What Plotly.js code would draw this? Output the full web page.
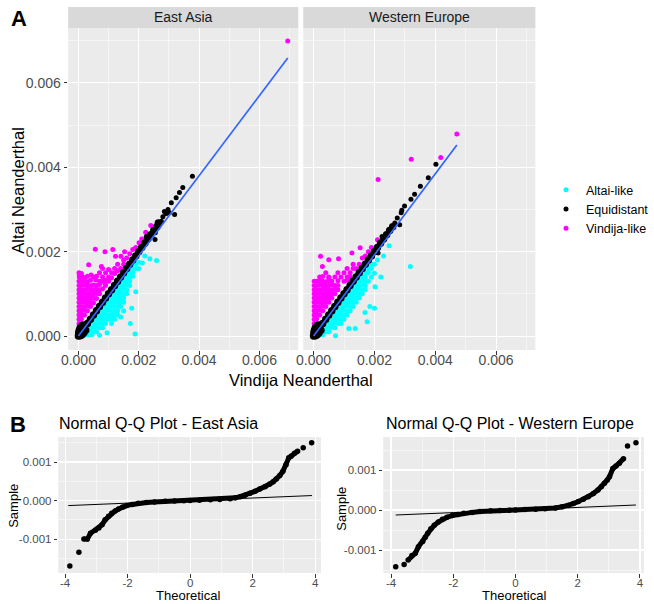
<!DOCTYPE html>
<html>
<head>
<meta charset="utf-8">
<script src="https://cdn.plot.ly/plotly-3.0.1.min.js"></script>
<style>html,body{margin:0;padding:0;background:#fff}#chart{width:654px;height:604px}</style>
</head>
<body>
<div id="chart"></div>
<script>
// ---------- Panel A data: [Vindija, Altai] pairs ----------
const categories = ['Altai-like', 'Equidistant', 'Vindija-like'];
const facets = ['East Asia', 'Western Europe'];

const eaAltai = [
 [0.00025,0.00003],[0.00035,0.00003],[0.00045,0.00004],
 [0.0003,0.0001],[0.0004,0.0001],[0.0005,0.00011],[0.0006,0.0001],
 [0.0004,0.0002],[0.0005,0.0002],[0.0006,0.00021],[0.0007,0.0002],[0.0008,0.0002],
 [0.0005,0.0003],[0.0006,0.0003],[0.0007,0.00031],[0.0008,0.0003],[0.0009,0.0003],[0.0011,0.0003],
 [0.0006,0.0004],[0.0007,0.0004],[0.0008,0.00041],[0.0009,0.0004],[0.001,0.0004],[0.0011,0.0004],[0.0012,0.0004],
 [0.0007,0.0005],[0.0008,0.0005],[0.0009,0.00051],[0.001,0.0005],[0.0011,0.0005],[0.0012,0.0005],[0.0013,0.0005],
 [0.0008,0.0006],[0.0009,0.0006],[0.001,0.00061],[0.0011,0.0006],[0.0012,0.0006],[0.0013,0.0006],
 [0.0009,0.0007],[0.001,0.0007],[0.0011,0.00071],[0.0012,0.0007],[0.0013,0.0007],[0.0014,0.0007],
 [0.001,0.0008],[0.0011,0.0008],[0.0012,0.00081],[0.0013,0.0008],[0.0014,0.0008],[0.0015,0.0008],
 [0.0011,0.0009],[0.0012,0.0009],[0.0013,0.00091],[0.0014,0.0009],[0.0015,0.0009],
 [0.0012,0.001],[0.0013,0.001],[0.0014,0.00101],[0.0015,0.001],[0.0016,0.001],
 [0.0013,0.0011],[0.0014,0.0011],[0.0015,0.00111],[0.0016,0.0011],
 [0.0014,0.0012],[0.0015,0.0012],[0.0016,0.00121],[0.0017,0.0012],
 [0.0015,0.0013],[0.0016,0.0013],[0.0017,0.0013],
 [0.0016,0.0014],[0.0017,0.0014],[0.0018,0.00142],
 [0.0017,0.0015],[0.0018,0.0015],[0.0018,0.0016],[0.0019,0.0016],[0.0019,0.0017],[0.002,0.00175],
 [0.00237,0.00183],[0.00259,0.00179],[0.00212,0.00173],[0.0019,0.00105],[0.00177,0.00066],
 [0.00172,0.0003],[0.00188,0.00005],[0.0022,0.0019],[0.002,0.0016],[0.0015,0.0006],
 [0.00095,0.00008],[0.0007,0.00002],[0.0014,0.00045]
];
const eaEquiBand = [
 [0,0],[0.00006,0.00001],[0.00001,0.00008],[0.00012,0.00003],[0.00003,0.00014],[0.0001,0.0001],
 [0.00018,0.00008],[0.00006,0.0002],[0.0002,0.0002],[0.00024,0.00014],[0.00014,0.00026],
 [0.0003,0.0003],[0.0004,0.0004],[0.0005,0.0005],[0.0006,0.0006],[0.0007,0.0007],[0.0008,0.0008],
 [0.0009,0.0009],[0.001,0.001],[0.0011,0.0011],[0.0012,0.0012],[0.0013,0.0013],[0.0014,0.0014],
 [0.0015,0.0015],[0.0016,0.0016],[0.0017,0.0017],[0.0018,0.0018],[0.0019,0.0019],[0.002,0.002],
 [0.0021,0.0021],[0.0022,0.0022],[0.0023,0.0023],[0.0024,0.0024],[0.0025,0.0025],[0.0026,0.00259],
 [0.00265,0.00268]
];
const eaEquiSparse = [
 [0.00275,0.00272],[0.0028,0.00283],[0.0029,0.0029],[0.00297,0.003],[0.00308,0.00316],[0.00302,0.00292],
 [0.00319,0.00288],[0.00324,0.00328],[0.00335,0.0034],[0.00346,0.00352],[0.00378,0.00379],
 [0.00254,0.00229],[0.00285,0.00295],[0.00255,0.00245],[0.00225,0.00236]
];
const eaVindija = [
 [0.00002,0.0015],[0.0001,0.00148],
 [0.00003,0.0014],[0.00012,0.00141],[0.00022,0.00139],[0.0003,0.00142],[0.00042,0.00145],[0.0006,0.00142],
 [0.00002,0.0013],[0.0001,0.00131],[0.0002,0.0013],[0.0003,0.00129],[0.0004,0.00132],[0.00058,0.00133],[0.0007,0.0013],[0.0009,0.00132],
 [0.00002,0.0012],[0.0001,0.0012],[0.0002,0.00121],[0.0003,0.0012],[0.0004,0.00119],[0.0005,0.00121],[0.0006,0.0012],[0.0007,0.00122],[0.00088,0.00124],
 [0.00002,0.0011],[0.0001,0.0011],[0.0002,0.0011],[0.0003,0.00111],[0.0004,0.0011],[0.0005,0.0011],[0.0006,0.00111],[0.0007,0.0011],[0.0008,0.00112],
 [0.00002,0.001],[0.0001,0.001],[0.0002,0.00101],[0.0003,0.001],[0.0004,0.00099],[0.0005,0.001],[0.0006,0.00101],[0.0007,0.001],
 [0.00002,0.0009],[0.0001,0.0009],[0.0002,0.0009],[0.0003,0.00091],[0.0004,0.0009],[0.0005,0.0009],[0.0006,0.00089],
 [0.00002,0.0008],[0.0001,0.0008],[0.0002,0.00081],[0.0003,0.0008],[0.0004,0.0008],[0.0005,0.00079],
 [0.00002,0.0007],[0.0001,0.0007],[0.0002,0.0007],[0.0003,0.00071],[0.0004,0.0007],
 [0.00002,0.0006],[0.0001,0.0006],[0.0002,0.00061],[0.0003,0.0006],
 [0.00002,0.0005],[0.0001,0.0005],[0.0002,0.0005],[0.00002,0.0004],[0.0001,0.00041],[0.00002,0.0003],
 [0.0008,0.0016],[0.001,0.00158],[0.0012,0.0016],[0.0007,0.0015],[0.0009,0.0015],[0.0011,0.0015],
 [0.0012,0.00148],[0.0005,0.0014],[0.0008,0.0014],[0.001,0.0014],[0.0011,0.00138],[0.0008,0.0013],
 [0.001,0.0013],[0.0009,0.0012],[0.0013,0.0017],[0.0015,0.0017],[0.0015,0.0018],[0.0016,0.00185],
 [0.0014,0.0016],[0.0013,0.00155],[0.0017,0.00195],[0.0018,0.00205],[0.0019,0.0021],[0.0021,0.0023],[0.0024,0.00262],
 [0.00694,0.00699],[0.00223,0.00246],[0.00201,0.00221],[0.00056,0.00206],[0.00088,0.002],[0.00114,0.00205],
 [0.00141,0.00189],[0.00153,0.002],[0.00123,0.00189],[0.00034,0.00169],[0.00076,0.00165],[0.00003,0.00145]
];
const eaFitX = [0.0, 0.00694];
const eaFitY = [0.0, 0.00659];

const weAltai = [
 [0.0002,0.00003],[0.0003,0.00003],
 [0.0003,0.0001],[0.0004,0.0001],[0.0005,0.0001],
 [0.0004,0.0002],[0.0005,0.0002],[0.0006,0.00021],[0.0007,0.0002],
 [0.0005,0.0003],[0.0006,0.0003],[0.0007,0.00031],[0.0008,0.0003],[0.0009,0.0003],
 [0.0006,0.0004],[0.0007,0.0004],[0.0008,0.00041],[0.0009,0.0004],[0.001,0.0004],
 [0.0007,0.0005],[0.0008,0.0005],[0.0009,0.00051],[0.001,0.0005],[0.0011,0.0005],
 [0.0008,0.0006],[0.0009,0.0006],[0.001,0.00061],[0.0011,0.0006],[0.0012,0.0006],
 [0.0009,0.0007],[0.001,0.0007],[0.0011,0.00071],[0.0012,0.0007],[0.0013,0.0007],
 [0.001,0.0008],[0.0011,0.0008],[0.0012,0.00081],[0.0013,0.0008],[0.0014,0.0008],
 [0.0011,0.0009],[0.0012,0.0009],[0.0013,0.00091],[0.0014,0.0009],[0.0015,0.0009],
 [0.0012,0.001],[0.0013,0.001],[0.0014,0.00101],[0.0015,0.001],[0.0016,0.001],
 [0.0013,0.0011],[0.0014,0.0011],[0.0015,0.00111],[0.0016,0.0011],[0.0017,0.0011],
 [0.0014,0.0012],[0.0015,0.0012],[0.0016,0.00121],[0.0017,0.0012],
 [0.0015,0.0013],[0.0016,0.0013],[0.0017,0.0013],[0.0018,0.0013],
 [0.0016,0.0014],[0.0017,0.0014],[0.0019,0.0014],[0.0017,0.0015],[0.0018,0.0015],
 [0.0018,0.0016],[0.0019,0.0016],[0.0019,0.0017],[0.002,0.0017],
 [0.00248,0.00214],[0.00221,0.0014],[0.00202,0.00117],[0.002,0.00149],[0.00185,0.0007],
 [0.002,0.00066],[0.00169,0.00056],[0.00176,0.00034],[0.00137,0.00018],[0.00116,0.00018],
 [0.00072,0.00001],[0.00318,0.00165],[0.0023,0.0019],[0.0021,0.0018]
];
const weEquiBand = [
 [0,0],[0.00006,0.00001],[0.00001,0.00008],[0.00012,0.00003],[0.00003,0.00014],[0.0001,0.0001],
 [0.00018,0.00008],[0.00006,0.0002],[0.0002,0.0002],[0.00024,0.00014],[0.00014,0.00026],
 [0.0003,0.0003],[0.0004,0.0004],[0.0005,0.0005],[0.0006,0.0006],[0.0007,0.0007],[0.0008,0.0008],
 [0.0009,0.0009],[0.001,0.001],[0.0011,0.0011],[0.0012,0.0012],[0.0013,0.0013],[0.0014,0.0014],
 [0.0015,0.0015],[0.0016,0.0016],[0.0017,0.0017],[0.0018,0.0018],[0.0019,0.0019],[0.002,0.002],
 [0.0021,0.0021],[0.0022,0.0022],[0.0023,0.0023],[0.0024,0.0024],[0.0025,0.0025],[0.0026,0.00259]
];
const weEquiSparse = [
 [0.00212,0.00197],[0.00225,0.00236],[0.00267,0.00268],[0.00283,0.00264],[0.00275,0.0028],
 [0.00288,0.00292],[0.0029,0.00298],[0.00299,0.00308],[0.0032,0.00324],[0.00332,0.00336],
 [0.00351,0.00355],[0.00377,0.00375],[0.00402,0.00407]
];
const weVindija = [
 [0.00002,0.0013],[0.0001,0.0013],[0.0002,0.00131],[0.0003,0.0013],[0.0004,0.00129],[0.0005,0.0013],[0.0006,0.0013],[0.0008,0.00131],[0.001,0.0013],[0.0011,0.00132],
 [0.00002,0.0012],[0.0001,0.0012],[0.0002,0.00121],[0.0003,0.0012],[0.0004,0.00119],[0.0005,0.0012],[0.0006,0.00121],[0.0007,0.0012],[0.0008,0.0012],
 [0.00002,0.0011],[0.0001,0.0011],[0.0002,0.0011],[0.0003,0.00111],[0.0004,0.0011],[0.0005,0.0011],[0.0006,0.0011],[0.0007,0.00111],[0.0008,0.0011],
 [0.00002,0.001],[0.0001,0.001],[0.0002,0.00101],[0.0003,0.001],[0.0004,0.001],[0.0005,0.00099],[0.0006,0.001],[0.0007,0.001],
 [0.00002,0.0009],[0.0001,0.0009],[0.0002,0.0009],[0.0003,0.00091],[0.0004,0.0009],[0.0005,0.0009],[0.0006,0.0009],
 [0.00002,0.0008],[0.0001,0.0008],[0.0002,0.00081],[0.0003,0.0008],[0.0004,0.0008],[0.0005,0.0008],
 [0.00002,0.0007],[0.0001,0.0007],[0.0002,0.0007],[0.0003,0.00071],[0.0004,0.0007],
 [0.00002,0.0006],[0.0001,0.0006],[0.0002,0.00061],[0.0003,0.0006],
 [0.00002,0.0005],[0.0001,0.0005],[0.0002,0.0005],[0.00002,0.0004],[0.0001,0.00041],[0.00002,0.0003],
 [0.0002,0.0014],[0.0003,0.00141],[0.0005,0.0014],[0.0007,0.0014],[0.0009,0.0014],[0.0011,0.0014],
 [0.0004,0.0015],[0.0008,0.0015],[0.001,0.0015],[0.0012,0.0015],[0.0011,0.0016],[0.0013,0.0016],
 [0.0013,0.0017],[0.0015,0.0017],[0.0016,0.00185],[0.0018,0.002],[0.0017,0.0019],[0.0014,0.0016],
 [0.0012,0.0014],[0.0019,0.0021],[0.0021,0.00228],
 [0.00471,0.00479],[0.00321,0.00419],[0.00418,0.00423],[0.00212,0.00371],[0.00023,0.00189],
 [0.0005,0.00181],[0.00082,0.00183],[0.00126,0.00197],[0.00153,0.00209],[0.00029,0.00165],[0.0005,0.00137]
];
const weFitX = [0.0, 0.00471];
const weFitY = [0.0, 0.00453];

const aTickVals = [0, 0.002, 0.004, 0.006];
const aTickText = ['0.000', '0.002', '0.004', '0.006'];

// ---------- Panel B data: Normal Q-Q (theoretical, sample) ----------
const qqEaX = [-3.40,-3.29,-3.19,-3.03,-2.92,-2.82,-2.72,-2.61,-2.51,-2.40,-2.29,-2.16,-2.03,-1.85,-1.66,-1.40,-1.14,-0.80,-0.5,-0.2,0,0.3,0.65,0.95,1.28,1.45,1.6,1.76,1.92,2.08,2.23,2.40,2.55,2.66,2.76,2.87,2.97,3.07,3.16,3.23,3.34,3.44];
const qqEaY = [-0.00100,-0.00100,-0.00085,-0.00077,-0.00071,-0.00063,-0.00050,-0.00041,-0.00033,-0.00027,-0.00022,-0.00017,-0.00013,-0.00010,-0.00007,-0.00005,-0.000035,-0.00002,-0.00001,-0.000005,0,0.00001,0.00002,0.00003,0.00005,0.00007,0.0001,0.00014,0.00019,0.00024,0.0003,0.00036,0.00043,0.00049,0.00056,0.00065,0.00076,0.00093,0.00111,0.00115,0.00123,0.00128];
const qqEaTailX = [-3.85,-3.56,3.62,3.89];
const qqEaTailY = [-0.0017,-0.00134,0.00137,0.0015];
const qqEaLineX = [-3.9, 3.9];
const qqEaLineY = [-0.00013, 0.00013];

const qqWeX = [-3.45,-3.33,-3.22,-3.12,-2.98,-2.90,-2.82,-2.72,-2.61,-2.48,-2.35,-2.20,-2.03,-1.85,-1.66,-1.40,-1.14,-0.80,-0.5,-0.2,0,0.3,0.65,0.95,1.28,1.5,1.7,1.86,2.02,2.18,2.34,2.50,2.65,2.76,2.86,2.95,3.02,3.13,3.23,3.34,3.47];
const qqWeY = [-0.00125,-0.00114,-0.00108,-0.00092,-0.00079,-0.00068,-0.00058,-0.00047,-0.00038,-0.00030,-0.00023,-0.00018,-0.00014,-0.00011,-0.00008,-0.00006,-0.00004,-0.00002,-0.00001,-0.000005,0,0.00001,0.00002,0.00003,0.00005,0.00008,0.00011,0.00016,0.00021,0.00027,0.00033,0.00041,0.0005,0.00058,0.00067,0.00075,0.00083,0.00104,0.0011,0.00117,0.00128];
const qqWeTailX = [-3.85,-3.58,3.6,3.87];
const qqWeTailY = [-0.00142,-0.00136,0.0016,0.00168];
const qqWeLineX = [-3.85, 3.87];
const qqWeLineY = [-0.000125, 0.000125];

const bXTickVals = [-4, -2, 0, 2, 4];
const bXTickText = ['-4', '-2', '0', '2', '4'];
const bYTickVals = [-0.001, 0, 0.001];
const bYTickText = ['-0.001', '0.000', '0.001'];

const colors = {'Altai-like': '#00FFFF', 'Equidistant': '#000000', 'Vindija-like': '#FF00FF'};
const fitColor = '#3366FF';

// ---------- traces ----------
const px = a => a.map(p => p[0]);
const py = a => a.map(p => p[1]);
const traces = [];
function pts(name, data, xa, ya, showLeg, rank, size) {
  traces.push({type: 'scatter', mode: 'markers', name: name, x: px(data), y: py(data),
    xaxis: xa, yaxis: ya, legendgroup: name, showlegend: showLeg, legendrank: rank,
    marker: {color: colors[name], size: size, line: {width: 0}}, hoverinfo: 'skip'});
}
function facetTraces(alt, band, sparse, vind, fitX, fitY, xa, ya, showLeg) {
  pts('Altai-like', alt, xa, ya, showLeg, 1, 5);
  pts('Vindija-like', vind, xa, ya, showLeg, 3, 5);
  pts('Equidistant', sparse, xa, ya, showLeg, 2, 5);
  pts('Equidistant', band, xa, ya, false, 2, 7.5);
  traces.push({type: 'scatter', mode: 'lines', x: fitX, y: fitY, xaxis: xa, yaxis: ya,
    showlegend: false, line: {color: fitColor, width: 1.7}, hoverinfo: 'skip'});
}
facetTraces(eaAltai, eaEquiBand, eaEquiSparse, eaVindija, eaFitX, eaFitY, 'x', 'y', true);
facetTraces(weAltai, weEquiBand, weEquiSparse, weVindija, weFitX, weFitY, 'x2', 'y2', false);

function qqTraces(bx, by, tx, ty, lx, ly, xa, ya) {
  traces.push({type: 'scatter', mode: 'lines+markers', x: bx, y: by, xaxis: xa, yaxis: ya, showlegend: false,
    line: {color: '#000', width: 5}, marker: {color: '#000', size: 5.5}, hoverinfo: 'skip'});
  traces.push({type: 'scatter', mode: 'markers', x: tx, y: ty, xaxis: xa, yaxis: ya, showlegend: false,
    marker: {color: '#000', size: 5.5}, hoverinfo: 'skip'});
  traces.push({type: 'scatter', mode: 'lines', x: lx, y: ly, xaxis: xa, yaxis: ya, showlegend: false,
    line: {color: '#000', width: 1}, hoverinfo: 'skip'});
}
qqTraces(qqEaX, qqEaY, qqEaTailX, qqEaTailY, qqEaLineX, qqEaLineY, 'x3', 'y3');
qqTraces(qqWeX, qqWeY, qqWeTailX, qqWeTailY, qqWeLineX, qqWeLineY, 'x4', 'y4');

// ---------- layout ----------
const W = 654, H = 604;
const fx = p => p / W, fy = p => 1 - p / H;
const tickFontA = {family: 'Liberation Sans, Arial, sans-serif', size: 14, color: '#4d4d4d'};
const tickFontB = {family: 'Liberation Sans, Arial, sans-serif', size: 11.5, color: '#4d4d4d'};
function ax(domain, range, tv, tt, minorVals, font, extra) {
  return Object.assign({domain: domain, range: range, tickmode: 'array', tickvals: tv, ticktext: tt,
    ticks: 'outside', ticklen: 3.5, tickwidth: 1, tickcolor: '#333333', tickfont: font,
    showgrid: true, gridcolor: '#ffffff', gridwidth: 1.1, zeroline: false, showline: false,
    minor: {tickmode: 'array', tickvals: minorVals, showgrid: true, gridcolor: '#ffffff', gridwidth: 0.5, ticks: ''},
    fixedrange: true}, extra || {});
}
const aRangeX = [-0.00034, 0.00729], aRangeY = [-0.00033, 0.0073];
const aMinor = [0.001, 0.003, 0.005, 0.007];
const bMinorX = [-3, -1, 1, 3];
const bMinorY = [-0.0015, -0.0005, 0.0005, 0.0015];
const layout = {
  width: W, height: H, margin: {l: 0, r: 0, t: 0, b: 0},
  paper_bgcolor: '#ffffff', plot_bgcolor: '#ebebeb',
  font: {family: 'Liberation Sans, Arial, sans-serif', color: '#1a1a1a'},
  xaxis: ax([fx(69), fx(302)], aRangeX, aTickVals, aTickText, aMinor, tickFontA, {anchor: 'y', ticklabelstandoff: -6}),
  yaxis: ax([fy(350), fy(28)], aRangeY, aTickVals, aTickText, aMinor, tickFontA, {anchor: 'x'}),
  xaxis2: ax([fx(307), fx(542)], aRangeX, aTickVals, aTickText, aMinor, tickFontA, {anchor: 'y2', ticklabelstandoff: -6}),
  yaxis2: ax([fy(350), fy(28)], aRangeY, aTickVals, aTickText, aMinor, tickFontA, {anchor: 'x2', showticklabels: false, ticks: ''}),
  xaxis3: ax([fx(59), fx(325)], [-4.22, 4.19], bXTickVals, bXTickText, bMinorX, tickFontB, {anchor: 'y3', ticklabelstandoff: -4}),
  yaxis3: ax([fy(573), fy(437)], [-0.00188, 0.00165], bYTickVals, bYTickText, bMinorY, tickFontB, {anchor: 'x3'}),
  xaxis4: ax([fx(388), fx(652)], [-4.25, 4.13], bXTickVals, bXTickText, bMinorX, tickFontB, {anchor: 'y4', ticklabelstandoff: -4}),
  yaxis4: ax([fy(573), fy(437)], [-0.001575, 0.001825], bYTickVals, bYTickText, bMinorY, tickFontB, {anchor: 'x4'}),
  legend: {x: fx(553), y: fy(175), xanchor: 'left', yanchor: 'top', bgcolor: 'rgba(255,255,255,0)',
    font: {size: 12.5, color: '#000'}, traceorder: 'normal', itemclick: false, itemdoubleclick: false},
  shapes: [
    {type: 'rect', xref: 'paper', yref: 'paper', x0: fx(69), x1: fx(302), y0: fy(28), y1: fy(7), fillcolor: '#d9d9d9', line: {width: 0}},
    {type: 'rect', xref: 'paper', yref: 'paper', x0: fx(307), x1: fx(542), y0: fy(28), y1: fy(7), fillcolor: '#d9d9d9', line: {width: 0}}
  ],
  annotations: [
    {text: '<b>A</b>', x: fx(9), y: fy(19), xref: 'paper', yref: 'paper', xanchor: 'left', yanchor: 'middle', showarrow: false, font: {size: 22, color: '#000'}},
    {text: '<b>B</b>', x: fx(8), y: fy(424), xref: 'paper', yref: 'paper', xanchor: 'left', yanchor: 'middle', showarrow: false, font: {size: 22, color: '#000'}},
    {text: facets[0], x: fx(185.5), y: fy(17.5), xref: 'paper', yref: 'paper', xanchor: 'center', yanchor: 'middle', showarrow: false, font: {size: 14, color: '#1a1a1a'}},
    {text: facets[1], x: fx(424.5), y: fy(17.5), xref: 'paper', yref: 'paper', xanchor: 'center', yanchor: 'middle', showarrow: false, font: {size: 14, color: '#1a1a1a'}},
    {text: 'Vindija Neanderthal', x: fx(305), y: fy(380), xref: 'paper', yref: 'paper', xanchor: 'center', yanchor: 'middle', showarrow: false, font: {size: 16.5, color: '#000'}},
    {text: 'Altai Neanderthal', x: fx(18), y: fy(190), xref: 'paper', yref: 'paper', xanchor: 'center', yanchor: 'middle', textangle: -90, showarrow: false, font: {size: 16.5, color: '#000'}},
    {text: 'Normal Q-Q Plot - East Asia', x: fx(58), y: fy(423), xref: 'paper', yref: 'paper', xanchor: 'left', yanchor: 'middle', showarrow: false, font: {size: 16, color: '#000'}},
    {text: 'Normal Q-Q Plot - Western Europe', x: fx(389), y: fy(423), xref: 'paper', yref: 'paper', xanchor: 'left', yanchor: 'middle', showarrow: false, font: {size: 16, color: '#000'}},
    {text: 'Theoretical', x: fx(190), y: fy(595), xref: 'paper', yref: 'paper', xanchor: 'center', yanchor: 'middle', showarrow: false, font: {size: 13, color: '#000'}},
    {text: 'Theoretical', x: fx(520), y: fy(595), xref: 'paper', yref: 'paper', xanchor: 'center', yanchor: 'middle', showarrow: false, font: {size: 13, color: '#000'}},
    {text: 'Sample', x: fx(14), y: fy(506), xref: 'paper', yref: 'paper', xanchor: 'center', yanchor: 'middle', textangle: -90, showarrow: false, font: {size: 13, color: '#000'}},
    {text: 'Sample', x: fx(345), y: fy(509), xref: 'paper', yref: 'paper', xanchor: 'center', yanchor: 'middle', textangle: -90, showarrow: false, font: {size: 13, color: '#000'}}
  ]
};
Plotly.newPlot('chart', traces, layout, {staticPlot: true, displayModeBar: false});
</script>
</body>
</html>
